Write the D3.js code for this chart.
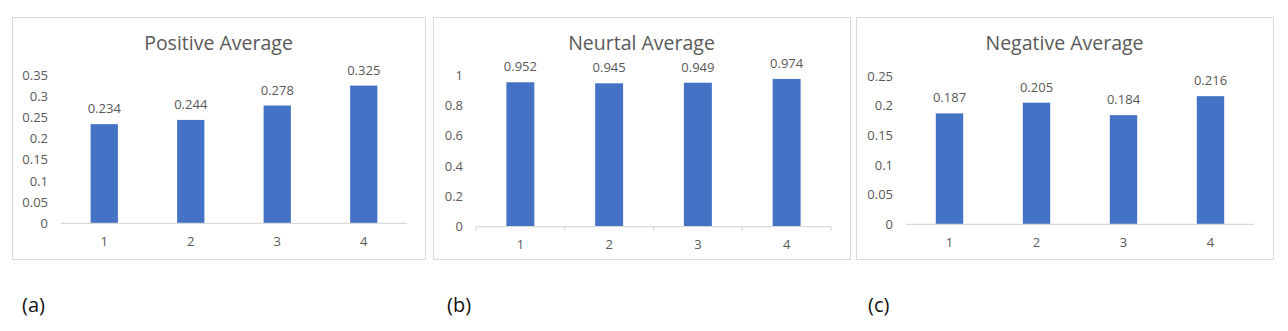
<!DOCTYPE html>
<html>
<head>
<meta charset="utf-8">
<script src="https://cdn.jsdelivr.net/npm/d3@7"></script>
<style>
  html, body { margin: 0; padding: 0; background: #fff; }
  svg { display: block; }
</style>
</head>
<body>
<svg id="chart" width="1288" height="331"></svg>
<script>
// ---- data ----
const categories = ["1", "2", "3", "4"];
const positiveValues = [0.234, 0.244, 0.278, 0.325];
const neutralValues = [0.952, 0.945, 0.949, 0.974];
const negativeValues = [0.187, 0.205, 0.184, 0.216];
const positiveTicks = [0, 0.05, 0.1, 0.15, 0.2, 0.25, 0.3, 0.35];
const neutralTicks = [0, 0.2, 0.4, 0.6, 0.8, 1];
const negativeTicks = [0, 0.05, 0.1, 0.15, 0.2, 0.25];
const titles = ["Positive Average", "Neurtal Average", "Negative Average"];
const panelLabels = ["(a)", "(b)", "(c)"];

// ---- layout (presentation only) ----
const panels = [
  { values: positiveValues, ticks: positiveTicks, title: titles[0], label: panelLabels[0],
    frame: [12, 17, 425, 259], plotX: [61, 407], base: 223.3, top: 75, xTicks: false, labelX: 22 },
  { values: neutralValues, ticks: neutralTicks, title: titles[1], label: panelLabels[1],
    frame: [433, 17, 850, 259], plotX: [476, 831], base: 226.7, top: 75, xTicks: true, labelX: 447 },
  { values: negativeValues, ticks: negativeTicks, title: titles[2], label: panelLabels[2],
    frame: [856, 17, 1273, 259], plotX: [906, 1254], base: 224.3, top: 76, xTicks: false, labelX: 868 }
];

const svg = d3.select("#chart");
const font = "'Open Sans', 'Noto Sans', sans-serif";
const textGray = "#595959";
const lineGray = "#d9d9d9";
const barColor = "#4472C4";

panels.forEach(p => {
  const g = svg.append("g");
  const [fx0, fy0, fx1, fy1] = p.frame;
  g.append("rect")
    .attr("x", fx0 + 0.5).attr("y", fy0 + 0.5)
    .attr("width", fx1 - fx0).attr("height", fy1 - fy0)
    .attr("fill", "#fff").attr("stroke", lineGray).attr("stroke-width", 1);

  g.append("text")
    .attr("x", (fx0 + fx1) / 2).attr("y", 50)
    .attr("text-anchor", "middle")
    .attr("font-family", font).attr("font-size", 19.5)
    .attr("fill", textGray)
    .text(p.title);

  const x = d3.scaleBand().domain(categories).range(p.plotX)
    .paddingInner(0.685).paddingOuter(0.3425);
  const yMax = p.ticks[p.ticks.length - 1];
  const y = d3.scaleLinear().domain([0, yMax]).range([p.base, p.top]);

  // y axis labels (no line)
  const yAxis = d3.axisLeft(y).tickValues(p.ticks).tickSize(0).tickPadding(13)
    .tickFormat(d => String(+d.toFixed(2)));
  const ya = g.append("g").attr("transform", `translate(${p.plotX[0]},0)`).call(yAxis);
  ya.select(".domain").remove();
  ya.selectAll("text").attr("font-family", font).attr("font-size", 13).attr("fill", textGray);

  // bars
  g.selectAll(".bar").data(p.values).enter().append("rect")
    .attr("x", (d, i) => x(categories[i]))
    .attr("y", d => y(d))
    .attr("width", x.bandwidth())
    .attr("height", d => y(0) - y(d))
    .attr("fill", barColor);

  // data labels
  g.selectAll(".lbl").data(p.values).enter().append("text")
    .attr("x", (d, i) => x(categories[i]) + x.bandwidth() / 2)
    .attr("y", d => y(d) - 11)
    .attr("text-anchor", "middle")
    .attr("font-family", font).attr("font-size", 13)
    .attr("fill", textGray)
    .text(d => d.toFixed(3));

  // x axis
  const xAxis = d3.axisBottom(x).tickSize(0).tickPadding(13);
  const xa = g.append("g").attr("transform", `translate(0,${p.base})`).call(xAxis);
  xa.select(".domain").remove();
  xa.selectAll("text").attr("font-family", font).attr("font-size", 13).attr("fill", textGray);
  g.append("line")
    .attr("x1", p.plotX[0]).attr("x2", p.plotX[1])
    .attr("y1", p.base).attr("y2", p.base)
    .attr("stroke", lineGray).attr("stroke-width", 1.3);
  if (p.xTicks) {
    const bounds = [p.plotX[0]].concat(categories.map(c => x(c) + x.bandwidth() / 2 + x.step() / 2));
    g.selectAll(".xt").data(bounds).enter().append("line")
      .attr("x1", d => d).attr("x2", d => d)
      .attr("y1", p.base).attr("y2", p.base + 4)
      .attr("stroke", lineGray).attr("stroke-width", 1.3);
  }

  // panel label below
  svg.append("text")
    .attr("x", p.labelX).attr("y", 311.5)
    .attr("font-family", font).attr("font-size", 20)
    .attr("fill", "#111")
    .text(p.label);
});
</script>
</body>
</html>
